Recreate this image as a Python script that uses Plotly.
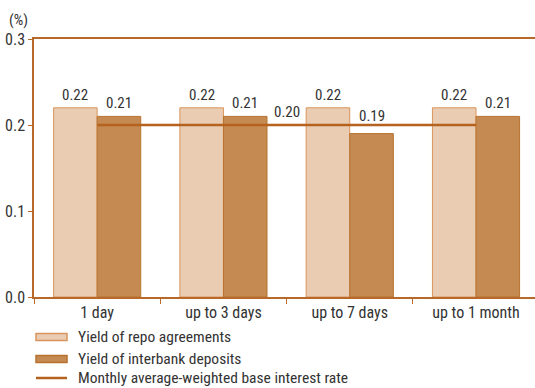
import plotly.graph_objects as go

categories = ["1 day", "up to 3 days", "up to 7 days", "up to 1 month"]
repo_yield = [0.22, 0.22, 0.22, 0.22]
interbank_yield = [0.21, 0.21, 0.19, 0.21]
base_rate = [0.20, 0.20, 0.20, 0.20]
y_ticks = [0.0, 0.1, 0.2, 0.3]

FONT = "Liberation Sans Narrow, Roboto Condensed, Arial Narrow, sans-serif"
TEXT = "#333333"
AXIS = "#B8692A"
REPO_FILL, REPO_EDGE = "#EACCB3", "#D9955C"
IB_FILL, IB_EDGE = "#C48A52", "#B8722F"
LINE_COLOR = "#B5621E"

W, H = 535, 388
M_L, M_R, M_T, M_B = 34, 0, 39, 91
PW, PH = W - M_L - M_R, H - M_T - M_B
BARGAP = 0.31


def px_x(x):
    return (x - M_L) / PW


def px_y(y):
    return (H - M_B - y) / PH


fig = go.Figure()
fig.add_trace(go.Bar(
    x=categories, y=repo_yield, name="Yield of repo agreements",
    marker=dict(color=REPO_FILL, line=dict(color=REPO_EDGE, width=1)),
))
fig.add_trace(go.Bar(
    x=categories, y=interbank_yield, name="Yield of interbank deposits",
    marker=dict(color=IB_FILL, line=dict(color=IB_EDGE, width=1)),
))
fig.add_trace(go.Scatter(
    x=categories, y=base_rate, mode="lines",
    name="Monthly average-weighted base interest rate",
    line=dict(color=LINE_COLOR, width=2.5),
))

# value labels above each bar; a label is lifted above the base-rate
# line when the bar ends below it
half = (1 - BARGAP) / 4
for offset, series in ((-half, repo_yield), (half, interbank_yield)):
    for i, v in enumerate(series):
        if base_rate[i] > v:
            anchor, shift = base_rate[i], 9
        else:
            anchor, shift = v, 13
        fig.add_annotation(
            x=i + offset, y=anchor, text=f"{v:.2f}", showarrow=False,
            yanchor="middle", yshift=shift,
            font=dict(family=FONT, size=15, color=TEXT),
        )

# label of the base rate, centred along its line
fig.add_annotation(
    x=1.5, y=base_rate[0], text=f"{base_rate[0]:.2f}", showarrow=False,
    yanchor="middle", yshift=13,
    font=dict(family=FONT, size=15, color=TEXT),
)
fig.add_annotation(
    x=px_x(18), y=px_y(20), xref="paper", yref="paper", text="(%)",
    showarrow=False, xanchor="center", yanchor="middle",
    font=dict(family=FONT, size=15, color=TEXT),
)

# legend drawn below the axis
legend_rows = [
    ("Yield of repo agreements", "bar", REPO_FILL, REPO_EDGE, 337),
    ("Yield of interbank deposits", "bar", IB_FILL, IB_EDGE, 359),
    ("Monthly average-weighted base interest rate", "line", LINE_COLOR, LINE_COLOR, 378),
]
for label, kind, fill, edge, cy in legend_rows:
    if kind == "bar":
        fig.add_shape(
            type="rect", xref="paper", yref="paper",
            x0=px_x(36), x1=px_x(67), y0=px_y(cy + 3.5), y1=px_y(cy - 3.5),
            fillcolor=fill, line=dict(color=edge, width=1.5),
        )
    else:
        fig.add_shape(
            type="line", xref="paper", yref="paper",
            x0=px_x(36), x1=px_x(67), y0=px_y(cy), y1=px_y(cy),
            line=dict(color=edge, width=2.5),
        )
    fig.add_annotation(
        x=px_x(76), y=px_y(cy), xref="paper", yref="paper", text=label,
        showarrow=False, xanchor="left", yanchor="middle",
        font=dict(family=FONT, size=15.5, color=TEXT),
    )

fig.update_layout(
    width=W, height=H,
    margin=dict(l=M_L, r=M_R, t=M_T, b=M_B),
    plot_bgcolor="white", paper_bgcolor="white",
    barmode="group", bargap=BARGAP, bargroupgap=0,
    font=dict(family=FONT, size=15, color=TEXT),
    showlegend=False,
    xaxis=dict(
        type="category", range=[-0.5, 3.467],
        showline=True, linecolor=AXIS, linewidth=1.5, mirror=True,
        ticks="outside", tickson="boundaries", ticklen=5, tickcolor=AXIS,
        showgrid=False, tickfont=dict(family=FONT, size=16, color=TEXT),
    ),
    yaxis=dict(
        range=[0, 0.3], tickvals=y_ticks, tickformat=".1f",
        showline=True, linecolor=AXIS, linewidth=1.5,
        ticks="outside", ticklen=4, tickcolor=AXIS,
        showgrid=False, zeroline=False,
        tickfont=dict(family=FONT, size=16, color=TEXT),
    ),
)

fig.write_html("out.html")
